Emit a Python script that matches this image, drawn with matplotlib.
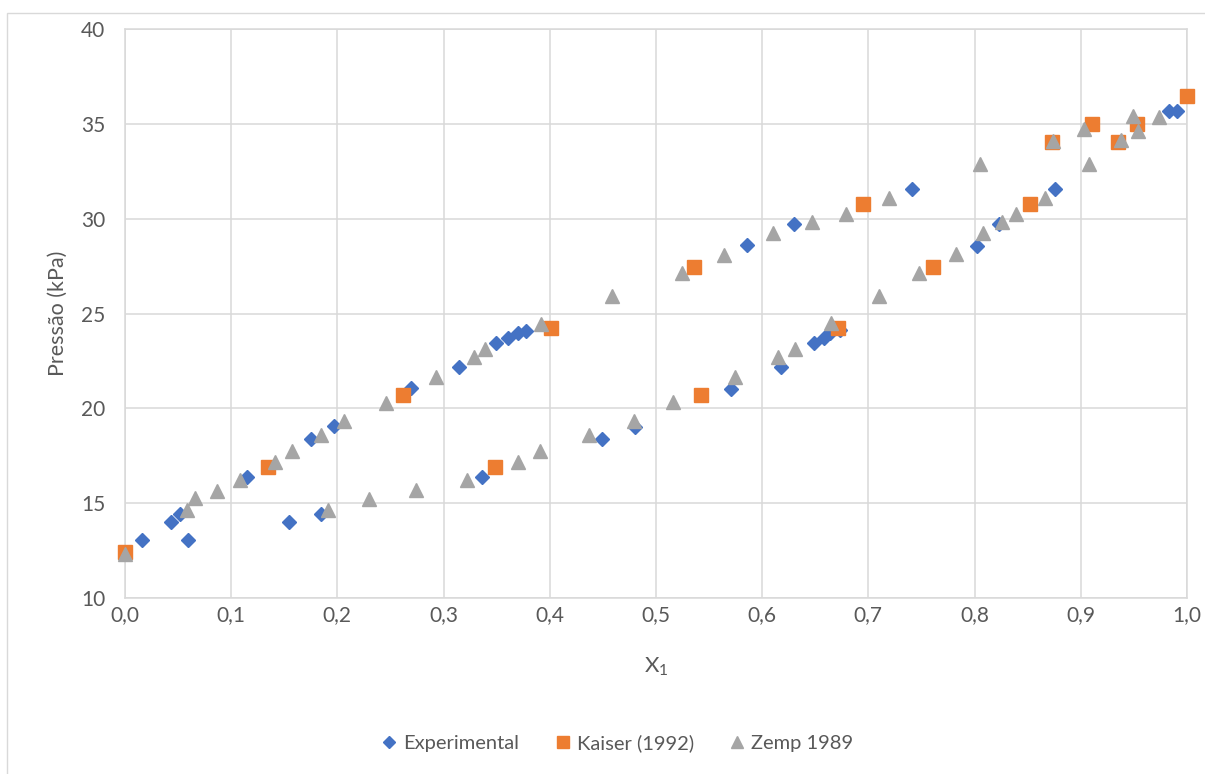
import matplotlib
matplotlib.use("Agg")
import matplotlib.pyplot as plt
from matplotlib.ticker import FuncFormatter

plt.rcParams['font.family'] = ['Lato', 'DejaVu Sans']

# dados
exp_x = [0.016, 0.043, 0.052, 0.059, 0.115, 0.154, 0.175, 0.185, 0.197, 0.269,
         0.315, 0.336, 0.349, 0.361, 0.370, 0.378, 0.449, 0.480, 0.571, 0.586,
         0.618, 0.630, 0.649, 0.658, 0.664, 0.673, 0.741, 0.802, 0.823, 0.876,
         0.983, 0.991]
exp_p = [13.05, 14.0, 14.42, 13.05, 16.4, 14.0, 18.37, 14.42, 19.07, 21.06,
         22.2, 16.4, 23.43, 23.73, 23.96, 24.1, 18.37, 19.04, 21.02, 28.6,
         22.17, 29.72, 23.43, 23.7, 23.96, 24.13, 31.57, 28.58, 29.72, 31.58,
         35.7, 35.7]

kaiser_x = [0.0, 0.135, 0.262, 0.348, 0.401, 0.536, 0.542, 0.671, 0.695, 0.761,
            0.852, 0.873, 0.911, 0.935, 0.953, 1.0]
kaiser_p = [12.45, 16.9, 20.7, 16.9, 24.22, 27.44, 20.7, 24.22, 30.78, 27.44,
            30.78, 34.06, 34.99, 34.06, 34.99, 36.48]

zemp_x = [0.0, 0.058, 0.066, 0.087, 0.108, 0.141, 0.157, 0.185, 0.191, 0.206,
          0.230, 0.246, 0.274, 0.293, 0.322, 0.329, 0.339, 0.370, 0.391, 0.392,
          0.437, 0.459, 0.479, 0.516, 0.525, 0.564, 0.574, 0.610, 0.615, 0.631,
          0.647, 0.665, 0.679, 0.710, 0.719, 0.748, 0.783, 0.805, 0.808, 0.826,
          0.839, 0.866, 0.874, 0.903, 0.908, 0.938, 0.949, 0.954, 0.974]
zemp_p = [12.3, 14.64, 15.26, 15.66, 16.23, 17.19, 17.77, 18.6, 14.64, 19.35,
          15.22, 20.3, 15.7, 21.64, 16.23, 22.69, 23.12, 17.19, 17.77, 24.45,
          18.6, 25.94, 19.35, 20.32, 27.16, 28.09, 21.67, 29.23, 22.7, 23.13,
          29.83, 24.49, 30.24, 25.9, 31.08, 27.15, 28.14, 32.88, 29.23, 29.83,
          30.25, 31.1, 34.11, 34.71, 32.88, 34.15, 35.41, 34.64, 35.38]

GRID = '#D9D9D9'
TXT = '#595959'

fig = plt.figure(figsize=(12.05, 7.74), dpi=100)
ax = fig.add_axes([0.1037, 0.2274, 0.8813, 0.7351])

ax.plot(exp_x, exp_p, linestyle='none', marker='D', ms=7.6, color='#4472C4',
        label='Experimental', zorder=3, clip_on=False)
ax.plot(kaiser_x, kaiser_p, linestyle='none', marker='s', ms=10.5, color='#ED7D31',
        label='Kaiser (1992)', zorder=4, clip_on=False)
ax.plot(zemp_x, zemp_p, linestyle='none', marker='^', ms=10.5, color='#A5A5A5',
        label='Zemp 1989', zorder=5, clip_on=False)

ax.set_xlim(0, 1)
ax.set_ylim(10, 40)
ax.set_xticks([i / 10 for i in range(11)])
ax.set_yticks(range(10, 41, 5))
ax.xaxis.set_major_formatter(FuncFormatter(lambda v, p: f"{v:.1f}".replace('.', ',')))
ax.grid(True, color=GRID, linewidth=1.1)
ax.set_axisbelow(True)
for s in ax.spines.values():
    s.set_color(GRID)
    s.set_linewidth(1.1)
ax.tick_params(length=0, labelsize=15, colors=TXT)
ax.tick_params(axis='y', pad=14)
ax.tick_params(axis='x', pad=5)

ax.set_xlabel(r'X$_{\mathregular{1}}$', fontsize=16, color=TXT, labelpad=22)
ax.set_ylabel('Pressão (kPa)', fontsize=15.5, color=TXT, labelpad=10)

fig.legend(loc='center', bbox_to_anchor=(0.512, 0.04), ncol=3, frameon=False,
           fontsize=14.5, labelcolor=TXT, handlelength=0.9, handletextpad=0.25,
           columnspacing=1.7, markerscale=0.85)

fig.add_artist(plt.Rectangle((7 / 1205, -0.1), 1.2, 1 - 13 / 774 + 0.1,
                             transform=fig.transFigure, fill=False,
                             edgecolor=GRID, linewidth=1))

fig.savefig('out.png', dpi=100)
